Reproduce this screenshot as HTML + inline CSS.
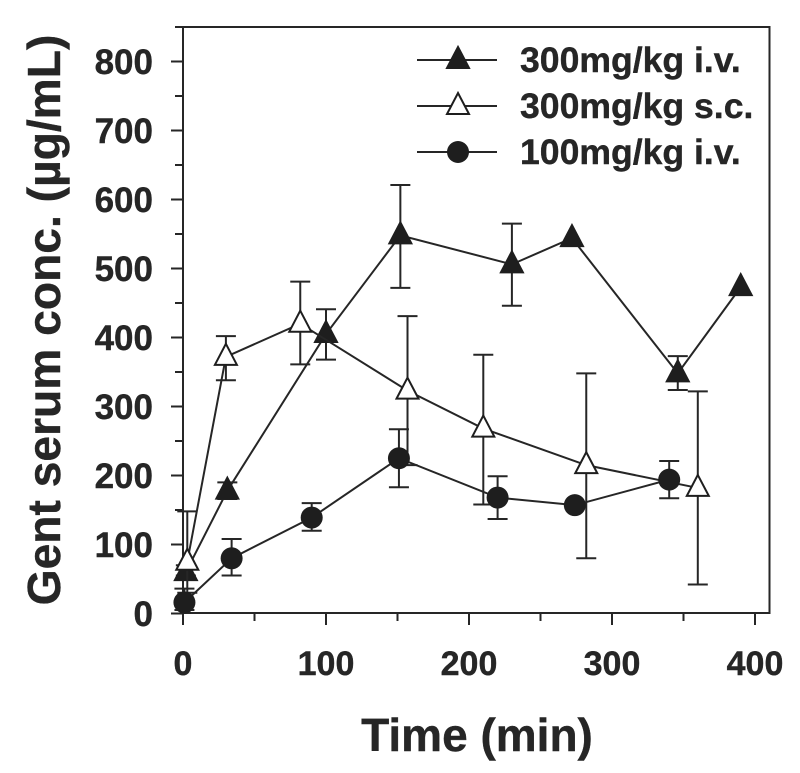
<!DOCTYPE html>
<html>
<head>
<meta charset="utf-8">
<style>
html,body{margin:0;padding:0;background:#fff;}
svg{display:block;}
text{font-family:"Liberation Sans",sans-serif;font-weight:bold;fill:#262626;stroke:#262626;stroke-width:0.4px;}
</style>
</head>
<body>
<svg id="chart" width="800" height="773" viewBox="0 0 800 773" xmlns="http://www.w3.org/2000/svg"></svg>
<script>
const xTicks = [0, 100, 200, 300, 400];
const xMinorTicks = [50, 150, 250, 350];
const yTicks = [0, 100, 200, 300, 400, 500, 600, 700, 800];
const yMinorTicks = [50, 150, 250, 350, 450, 550, 650, 750];

const ivHighTime = [2, 31, 100, 152, 230, 272, 346, 390];
const ivHighConc = [60, 178, 405, 548, 506, 544, 348, 473];
const ivHighUpper = [70, 190, 441, 621, 565, null, 373, null];
const ivHighLower = [55, 166, 368, 472, 446, null, 324, null];

const scTime = [3, 30, 82, 157, 210, 282, 360];
const scConc = [75, 372, 420, 323, 268, 215, 182];
const scUpper = [148, 402, 481, 431, 375, 348, 322];
const scLower = [30, 338, 361, 215, 158, 80, 42];

const ivLowTime = [1, 34, 90, 151, 220, 274, 340];
const ivLowConc = [16, 80, 139, 225, 168, 157, 194];
const ivLowUpper = [36, 108, 160, 267, 199, null, 221];
const ivLowLower = [5, 55, 120, 183, 137, null, 167];

const legendLabels = ['300mg/kg i.v.', '300mg/kg s.c.', '100mg/kg i.v.'];

const svg = document.getElementById('chart');
const ink = '#262626';
const sx = v => 183 + v * 1.43;
const sy = v => 613.5 - v * 0.69;

function make(tag, attrs, parent) {
  const el = document.createElementNS('http://www.w3.org/2000/svg', tag);
  for (const k in attrs) el.setAttribute(k, attrs[k]);
  (parent || svg).appendChild(el);
  return el;
}
function line(x1, y1, x2, y2, w, parent) {
  return make('line', {x1, y1, x2, y2, stroke: ink, 'stroke-width': w || 2}, parent);
}
function marker(kind, x, y, parent) {
  if (kind === 'circle') {
    return make('circle', {cx: x, cy: y, r: 11, fill: '#1e1e1e', stroke: 'none'}, parent);
  }
  const pts = (x) + ',' + (y - 13) + ' ' + (x + 11) + ',' + (y + 8) + ' ' + (x - 11) + ',' + (y + 8);
  return make('polygon', {
    points: pts,
    fill: kind === 'open' ? '#fff' : '#1e1e1e',
    stroke: '#1e1e1e',
    'stroke-width': 2
  }, parent);
}

// frame
const frame = make('rect', {x: 183, y: 27, width: 586.5, height: 586, fill: 'none', stroke: ink, 'stroke-width': 2});


const topStub = line(175, 27, 183, 27, 2);


const bottomStub = line(171, 613.5, 183, 613.5, 2);



// x axis
xTicks.forEach(v => {
  const t = line(sx(v), 613, sx(v), 625, 2);
  
  
  const l = make('text', {x: sx(v), y: 675, 'text-anchor': 'middle', 'font-size': 34});
  l.textContent = v;
  
  
});
xMinorTicks.forEach(v => {
  const t = line(sx(v), 613, sx(v), 621, 2);
  
  
});

// y axis
yTicks.forEach(v => {
  const t = line(171, sy(v), 183, sy(v), 2);
  
  
  const l = make('text', {x: 153, y: sy(v) + 12.5, 'text-anchor': 'end', 'font-size': 35});
  l.textContent = v;
  
  
});
yMinorTicks.forEach(v => {
  const t = line(175, sy(v), 183, sy(v), 2);
  
  
});

// titles
const xTitle = make('text', {x: 477, y: 751, 'text-anchor': 'middle', 'font-size': 46});
xTitle.textContent = 'Time (min)';


const yTitle = make('text', {x: 0, y: 0, 'text-anchor': 'middle', 'font-size': 46.2, transform: 'translate(60 320) rotate(-90)'});
yTitle.textContent = 'Gent serum conc. (µg/mL)';



// series
function drawSeries(name, kind, times, conc, upper, lower) {
  const g = make('g', {});
  
  
  times.forEach((t, i) => {
    if (upper[i] === null) return;
    const eb = make('g', {}, g);
    
    
    const x = sx(t);
    line(x, sy(upper[i]), x, sy(lower[i]), 2, eb);
    line(x - 10, sy(upper[i]), x + 10, sy(upper[i]), 2, eb);
    line(x - 10, sy(lower[i]), x + 10, sy(lower[i]), 2, eb);
  });
  const pts = times.map((t, i) => sx(t) + ',' + sy(conc[i])).join(' ');
  const path = make('polyline', {points: pts, fill: 'none', stroke: ink, 'stroke-width': 2}, g);
  
  
  times.forEach((t, i) => {
    const m = marker(kind, sx(t), sy(conc[i]), g);
    
    
  });
}
drawSeries('iv-300', 'filled', ivHighTime, ivHighConc, ivHighUpper, ivHighLower);
drawSeries('sc-300', 'open', scTime, scConc, scUpper, scLower);
drawSeries('iv-100', 'circle', ivLowTime, ivLowConc, ivLowUpper, ivLowLower);

// legend
const legendKinds = ['filled', 'open', 'circle'];
legendLabels.forEach((label, i) => {
  const y = 60 + i * 46;
  const g = make('g', {});
  
  
  line(417, y, 497, y, 2, g);
  marker(legendKinds[i], 458, y, g);
  const t = make('text', {x: 520, y: y + 12, 'font-size': 35.6}, g);
  t.textContent = label;
  
  
});
</script>
</body>
</html>
